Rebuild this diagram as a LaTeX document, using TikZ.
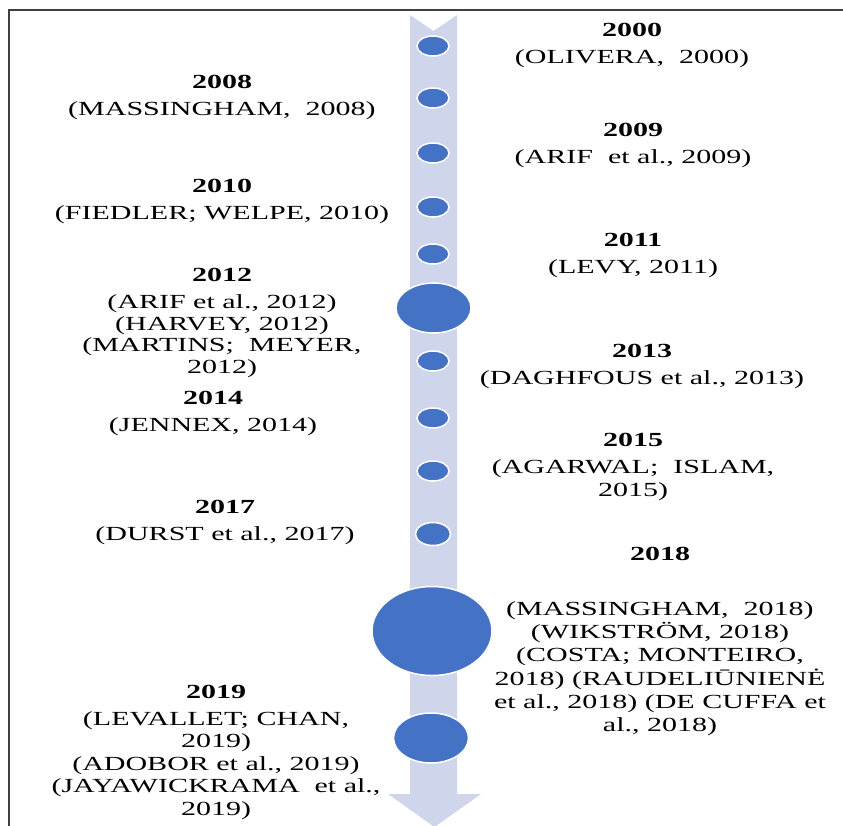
\documentclass[tikz,border=0pt]{standalone}
\usepackage{fontspec}
\setmainfont[FakeStretch=1.5]{Liberation Serif}
\usepackage{tikz}
\definecolor{shaftblue}{HTML}{CFD5EA}
\definecolor{dotblue}{HTML}{4472C4}

\begin{document}
\begin{tikzpicture}[x=1pt, y=-1pt,
        dot/.style={fill=dotblue, draw=white, line width=1.5pt},
        yearlabel/.style={anchor=north, inner sep=0pt, align=center, font=\fontsize{20}{22.5}\selectfont}]
                    \useasboundingbox (0,0) rectangle (843,825);
                    \draw[line width=1.5pt, black!75] (9,826) -- (9,10) -- (843,10);
                    \fill[shaftblue] (410,15) -- (433.5,31) -- (457,15) -- (457,794) -- (481,794) -- (434.5,827) -- (388,794) -- (410,794) -- cycle;
                    \foreach \y in {46,98,153,207,254,361,418,471}
                        \draw[dot] (433,\y) ellipse [x radius=16, y radius=10];
                    \draw[dot] (433,534) ellipse [x radius=17.5, y radius=11.5];
                    \draw[dot] (433.5,308) ellipse [x radius=37.5, y radius=25];
                    \draw[dot] (432,631) ellipse [x radius=60, y radius=44.5];
                    \draw[dot] (431,738) ellipse [x radius=37.5, y radius=25];
                    \node[yearlabel] (y2000) at (632,23) {\textbf{2000}\\[4.5pt](OLIVERA,~ 2000)};
                    \node[yearlabel] (y2008) at (222,75) {\textbf{2008}\\[4.5pt](MASSINGHAM,~ 2008)};
                    \node[yearlabel] (y2009) at (633,123) {\textbf{2009}\\[4.5pt](ARIF~ et al., 2009)};
                    \node[yearlabel] (y2010) at (222,179) {\textbf{2010}\\[4.5pt](FIEDLER; WELPE, 2010)};
                    \node[yearlabel] (y2011) at (633,233) {\textbf{2011}\\[4.5pt](LEVY, 2011)};
                    \node[yearlabel, font=\fontsize{20}{21.5}\selectfont] (y2012) at (222,268) {\textbf{2012}\\[5.5pt](ARIF et al., 2012)\\(HARVEY, 2012)\\(MARTINS;~ MEYER,\\2012)};
                    \node[yearlabel] (y2013) at (642,344) {\textbf{2013}\\[4.5pt](DAGHFOUS et al., 2013)};
                    \node[yearlabel] (y2014) at (213,391) {\textbf{2014}\\[4.5pt](JENNEX, 2014)};
                    \node[yearlabel] (y2015) at (633,433) {\textbf{2015}\\[4.5pt](AGARWAL;~ ISLAM,\\2015)};
                    \node[yearlabel] (y2017) at (225,500) {\textbf{2017}\\[4.5pt](DURST et al., 2017)};
                    \node[yearlabel, font=\fontsize{20}{23.2}\selectfont] (y2018) at (660,547) {\textbf{2018}\\[31.8pt](MASSINGHAM,~ 2018)\\(WIKSTRÖM, 2018)\\(COSTA; MONTEIRO,\\2018) (RAUDELIŪNIENĖ\\et al., 2018) (DE CUFFA et\\al., 2018)};
                    \node[yearlabel] (y2019) at (216,685) {\textbf{2019}\\[4pt](LEVALLET; CHAN,\\2019)\\(ADOBOR et al., 2019)\\(JAYAWICKRAMA~ et al.,\\2019)};
                \end{tikzpicture}
\end{document}
